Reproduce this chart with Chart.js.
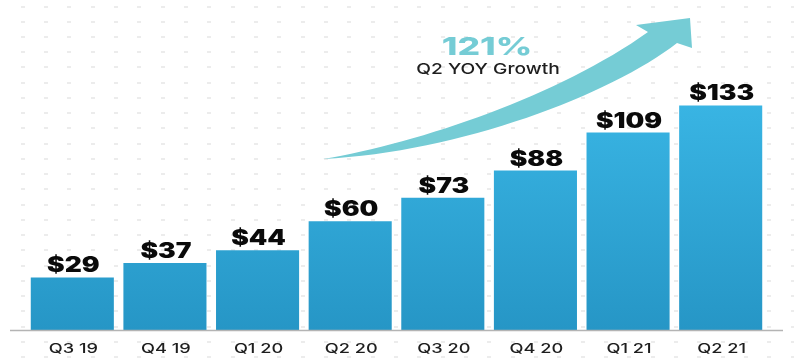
<!DOCTYPE html>
<html>
<head>
<meta charset="utf-8">
<script src="https://cdn.jsdelivr.net/npm/chart.js@4"></script>
<style>
  html, body { margin: 0; padding: 0; background: #ffffff; }
  #wrap { width: 794px; height: 362px; position: relative; }
</style>
</head>
<body>
<div id="wrap"><canvas id="c" width="794" height="362"></canvas></div>
<script>
// ---- data ----
const categories = ['Q3 19', 'Q4 19', 'Q1 20', 'Q2 20', 'Q3 20', 'Q4 20', 'Q1 21', 'Q2 21'];
const valueLabels = ['$29', '$37', '$44', '$60', '$73', '$88', '$109', '$133'];
// bar heights as drawn in the picture (the last bar is drawn a little short of scale)
const barHeights = [29, 37, 44, 60, 73, 88, 109, 124];
const growthValue = '121%';
const growthCaption = 'Q2 YOY Growth';

// draw text stretched horizontally (the source artwork is widened)
function stretchText(ctx, text, x, y, sx) {
  ctx.save();
  ctx.translate(x, y);
  ctx.scale(sx, 1);
  ctx.fillText(text, 0, 0);
  ctx.restore();
}

const dotGrid = {
  id: 'dotGrid',
  beforeDraw(chart) {
    const ctx = chart.ctx;
    ctx.save();
    ctx.fillStyle = '#ececec';
    for (let y = 5.5; y < chart.height; y += 15.24) {
      for (let x = 20.7; x < chart.width; x += 23.33) {
        ctx.fillRect(Math.round(x), Math.round(y), 4, 2);
      }
    }
    ctx.restore();
  }
};

const baseLine = {
  id: 'baseLine',
  afterDatasetsDraw(chart) {
    const ctx = chart.ctx;
    const y = chart.scales.y.getPixelForValue(0);
    ctx.save();
    ctx.strokeStyle = '#b4b4b4';
    ctx.lineWidth = 1.5;
    ctx.beginPath();
    ctx.moveTo(10, y + 0.5);
    ctx.lineTo(783, y + 0.5);
    ctx.stroke();
    // category labels
    ctx.fillStyle = '#1e1e1e';
    ctx.font = '500 13px Inter';
    ctx.textAlign = 'center';
    ctx.textBaseline = 'alphabetic';
    categories.forEach((c, i) => {
      const x = chart.scales.x.getPixelForValue(i);
      stretchText(ctx, c, x + 1, y + 23, 1.4);
    });
    ctx.restore();
  }
};

const valueText = {
  id: 'valueText',
  afterDatasetsDraw(chart) {
    const ctx = chart.ctx;
    const meta = chart.getDatasetMeta(0);
    ctx.save();
    ctx.fillStyle = '#0a0a0a';
    ctx.font = '900 21px Inter';
    ctx.textAlign = 'center';
    ctx.textBaseline = 'alphabetic';
    meta.data.forEach((bar, i) => {
      stretchText(ctx, valueLabels[i], bar.x + 1, bar.y - 5, 1.26);
    });
    ctx.restore();
  }
};

const growthArrow = {
  id: 'growthArrow',
  afterDraw(chart) {
    const ctx = chart.ctx;
    ctx.save();
    ctx.fillStyle = '#75ccd5';
    ctx.beginPath();
    ctx.moveTo(323, 159);
    ctx.bezierCurveTo(420, 143, 560, 95, 648, 32);
    ctx.lineTo(636, 25);
    ctx.lineTo(690, 18);
    ctx.lineTo(692, 48);
    ctx.lineTo(677, 43);
    ctx.bezierCurveTo(610, 95, 460, 152, 323, 159);
    ctx.closePath();
    ctx.fill();

    ctx.textAlign = 'center';
    ctx.textBaseline = 'alphabetic';
    ctx.fillStyle = '#75ccd5';
    ctx.font = '800 25px Inter';
    stretchText(ctx, growthValue, 487, 55, 1.42);
    ctx.fillStyle = '#1e1e1e';
    ctx.font = '500 15px Inter';
    stretchText(ctx, growthCaption, 488, 74, 1.28);
    ctx.restore();
  }
};

const ctx = document.getElementById('c').getContext('2d');
const grad = ctx.createLinearGradient(0, 100, 0, 330);
grad.addColorStop(0, '#39b5e4');
grad.addColorStop(1, '#2696c6');

new Chart(ctx, {
  type: 'bar',
  data: {
    labels: categories,
    datasets: [{
      data: barHeights,
      backgroundColor: grad,
      borderWidth: 0,
      barPercentage: 0.897,
      categoryPercentage: 1.0
    }]
  },
  options: {
    responsive: false,
    animation: false,
    events: [],
    layout: { padding: { left: 26, right: 27, top: 4, bottom: 32 } },
    plugins: { legend: { display: false }, tooltip: { enabled: false } },
    scales: {
      x: { display: false },
      y: { display: false, min: 0, max: 180 }
    }
  },
  plugins: [dotGrid, baseLine, valueText, growthArrow]
});
</script>
</body>
</html>
